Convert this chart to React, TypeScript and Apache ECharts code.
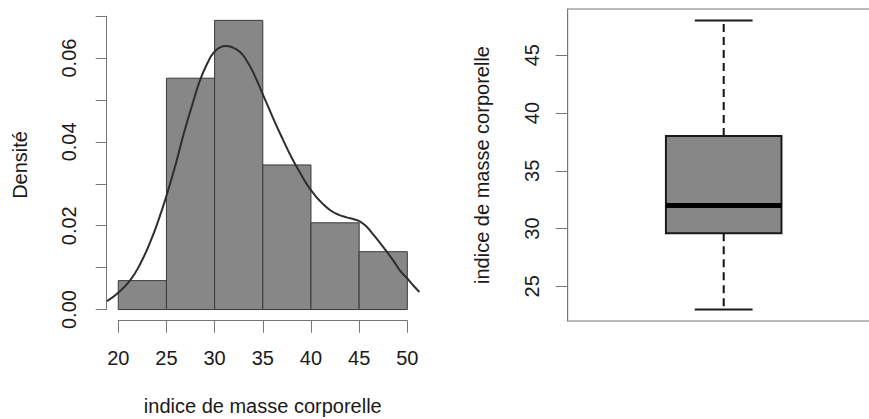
import React, { useEffect, useRef } from "react";
import * as echarts from "echarts";

// Histogram (density scale) of "indice de masse corporelle"
const binStarts = [20, 25, 30, 35, 40, 45];
const binEnds = [25, 30, 35, 40, 45, 50];
const binDensity = [0.0069, 0.0552, 0.069, 0.0345, 0.0207, 0.0138];

// Kernel density curve
const densityX = [18.83, 20.0, 21.25, 22.3, 23.3, 24.2, 25.05, 26.0, 26.8, 27.7, 28.5, 29.3, 29.9, 30.6, 31.2, 31.9, 32.66, 33.3, 34.0, 35.07, 36.1, 37.1, 38.0, 38.9, 39.6, 40.26, 41.1, 42.0, 42.9, 43.7, 44.5, 45.1, 45.8, 46.5, 47.2, 47.9, 48.6, 49.2, 50.0, 50.6, 51.25];
const densityY = [0.0020, 0.0040, 0.0070, 0.0110, 0.0160, 0.0215, 0.0275, 0.0350, 0.0420, 0.0490, 0.0548, 0.0590, 0.0613, 0.0626, 0.0629, 0.0625, 0.0614, 0.0595, 0.0566, 0.0510, 0.0455, 0.0405, 0.0362, 0.0325, 0.0298, 0.0277, 0.0255, 0.0237, 0.0226, 0.0220, 0.0215, 0.0210, 0.0197, 0.0178, 0.0158, 0.0137, 0.0115, 0.0094, 0.0074, 0.0058, 0.0042];

// Histogram axes
const histXTicks = [20, 25, 30, 35, 40, 45, 50];
const histYTicks = [0, 0.01, 0.02, 0.03, 0.04, 0.05, 0.06, 0.07];
const histYLabels = [0, 0.02, 0.04, 0.06];

// Boxplot stats
const boxPosition = [1];
const boxMin = [23];
const boxQ1 = [29.6];
const boxMedian = [32];
const boxQ3 = [38];
const boxMax = [48];
const boxYTicks = [25, 30, 35, 40, 45];

const xTitle = "indice de masse corporelle";
const yTitleLeft = "Densité";
const yTitleRight = "indice de masse corporelle";

// layout
const FONT = "'Liberation Sans', Arial, sans-serif";
const TXT = "#1a1a1a";
const AXC = "#777777";
const CANVAS_W = 1000;
const H = { left: 106.7, top: 8.8, width: 312.2, height: 312.3 };
const HX = [18.8, 51.2];
const HY = [-0.00276, 0.07176];
const B = { left: 567.7, top: 9, width: 312, height: 312 };
const BX = [0.46, 1.54];
const BY = [22, 49];

export default function App() {
  const ref = useRef<HTMLDivElement>(null);
  useEffect(() => {
    if (!ref.current) return;
    const chart = echarts.init(ref.current, null, { renderer: "svg" });

    const xPx = (v: number) => H.left + ((v - HX[0]) / (HX[1] - HX[0])) * H.width;
    const yPx = (v: number) => H.top + ((HY[1] - v) / (HY[1] - HY[0])) * H.height;
    const xa0 = xPx(histXTicks[0]);
    const xa1 = xPx(histXTicks[histXTicks.length - 1]);
    const ya0 = yPx(histYTicks[0]);
    const ya1 = yPx(histYTicks[histYTicks.length - 1]);

    const histData = binStarts.map((s, i) => [s, binEnds[i], binDensity[i]]);
    const curveData = densityX.map((x, i) => [x, densityY[i]]);
    const boxData = boxPosition.map((p, i) => [p, boxMin[i], boxQ1[i], boxMedian[i], boxQ3[i], boxMax[i]]);

    const labelStyle = { color: TXT, fontFamily: FONT, fontSize: 20 };

    chart.setOption({
      animation: false,
      grid: [
        { left: H.left, top: H.top, width: H.width, height: H.height },
        { left: xa0, top: H.top + H.height - 0.4, width: xa1 - xa0, height: 0.01 },
        { left: H.left - 0.01, top: ya1, width: 0.01, height: ya0 - ya1 },
        { left: B.left, top: B.top, width: B.width, height: B.height },
      ],
      xAxis: [
        { type: "value", gridIndex: 0, min: HX[0], max: HX[1], show: false },
        {
          type: "value", gridIndex: 1, min: 20, max: 50, position: "bottom",
          axisLine: { show: true, lineStyle: { color: AXC, width: 1 } },
          axisTick: { show: true, length: 12, customValues: histXTicks, lineStyle: { color: AXC } },
          axisLabel: { ...labelStyle, margin: 27, customValues: histXTicks },
          splitLine: { show: false },
        },
        { type: "value", gridIndex: 2, min: 0, max: 1, show: false },
        { type: "value", gridIndex: 3, min: BX[0], max: BX[1], show: false },
      ],
      yAxis: [
        { type: "value", gridIndex: 0, min: HY[0], max: HY[1], show: false },
        { type: "value", gridIndex: 1, min: 0, max: 1, show: false },
        {
          type: "value", gridIndex: 2, min: 0, max: 0.07, position: "left",
          axisLine: { show: true, lineStyle: { color: AXC, width: 1 } },
          axisTick: { show: true, length: 11, customValues: histYTicks, lineStyle: { color: AXC } },
          axisLabel: {
            ...labelStyle, rotate: 90, margin: 28, customValues: histYLabels,
            formatter: (v: number) => v.toFixed(2),
          },
          splitLine: { show: false },
        },
        {
          type: "value", gridIndex: 3, min: BY[0], max: BY[1], position: "left",
          axisLine: { show: true, lineStyle: { color: AXC, width: 1 } },
          axisTick: { show: true, length: 12, customValues: boxYTicks, lineStyle: { color: AXC } },
          axisLabel: { ...labelStyle, rotate: 90, margin: 26, customValues: boxYTicks },
          splitLine: { show: false },
        },
      ],
      graphic: [
        {
          type: "text", x: 20, y: H.top + H.height / 2, rotation: Math.PI / 2,
          style: { text: yTitleLeft, ...labelStyle, fill: TXT, align: "center", verticalAlign: "middle" },
        },
        {
          type: "text", x: H.left + H.width / 2, y: 406,
          style: { text: xTitle, ...labelStyle, fill: TXT, align: "center", verticalAlign: "middle" },
        },
        {
          type: "text", x: 482, y: B.top + B.height / 2, rotation: Math.PI / 2,
          style: { text: yTitleRight, ...labelStyle, fill: TXT, align: "center", verticalAlign: "middle" },
        },
      ],
      series: [
        {
          type: "custom",
          xAxisIndex: 0, yAxisIndex: 0,
          data: histData,
          encode: { x: [0, 1], y: 2 },
          renderItem: (params: any, api: any) => {
            const p0 = api.coord([api.value(0), api.value(2)]);
            const p1 = api.coord([api.value(1), 0]);
            return {
              type: "rect",
              shape: { x: p0[0], y: p0[1], width: p1[0] - p0[0], height: p1[1] - p0[1] },
              style: { fill: "#878787", stroke: "#3a3a3a", lineWidth: 1 },
            };
          },
          z: 2,
        },
        {
          type: "line",
          xAxisIndex: 0, yAxisIndex: 0,
          data: curveData,
          smooth: true,
          symbol: "none",
          lineStyle: { color: "#2e2e2e", width: 2 },
          z: 3,
        },
        {
          type: "custom",
          xAxisIndex: 3, yAxisIndex: 3,
          data: boxData,
          encode: { x: 0, y: [1, 2, 3, 4, 5] },
          renderItem: (params: any, api: any) => {
            const cs = params.coordSys;
            const pos = api.value(0);
            const half = 0.2;
            const capHalf = 0.1;
            const c = (x: number, y: number) => api.coord([x, y]);
            const pMin = c(pos, api.value(1));
            const pQ1 = c(pos, api.value(2));
            const pMed = c(pos, api.value(3));
            const pQ3 = c(pos, api.value(4));
            const pMax = c(pos, api.value(5));
            const bl = c(pos - half, api.value(4));
            const br = c(pos + half, api.value(2));
            const cl = c(pos - capHalf, 0)[0];
            const cr = c(pos + capHalf, 0)[0];
            const dash = { stroke: "#111", lineWidth: 2, lineDash: [8, 5] };
            const solid = { stroke: "#1a1a1a", lineWidth: 2 };
            return {
              type: "group",
              children: [
                {
                  type: "polyline",
                  shape: { points: [[cs.x + cs.width, cs.y], [cs.x, cs.y], [cs.x, cs.y + cs.height], [cs.x + cs.width, cs.y + cs.height]] },
                  style: { fill: "none", stroke: AXC, lineWidth: 1 },
                },
                { type: "line", shape: { x1: pQ3[0], y1: pQ3[1], x2: pMax[0], y2: pMax[1] }, style: dash },
                { type: "line", shape: { x1: pQ1[0], y1: pQ1[1], x2: pMin[0], y2: pMin[1] }, style: dash },
                { type: "line", shape: { x1: cl, y1: pMax[1], x2: cr, y2: pMax[1] }, style: solid },
                { type: "line", shape: { x1: cl, y1: pMin[1], x2: cr, y2: pMin[1] }, style: solid },
                {
                  type: "rect",
                  shape: { x: bl[0], y: bl[1], width: br[0] - bl[0], height: br[1] - bl[1] },
                  style: { fill: "#878787", stroke: "#1a1a1a", lineWidth: 2 },
                },
                {
                  type: "line",
                  shape: { x1: bl[0], y1: pMed[1], x2: br[0], y2: pMed[1] },
                  style: { stroke: "#000", lineWidth: 5 },
                },
              ],
            };
          },
          z: 2,
        },
      ],
    });
    return () => chart.dispose();
  }, []);
  return (
    <div
      style={{ position: "absolute", left: 0, top: 0, width: 869, height: 419, overflow: "hidden", background: "#fff" }}
    >
      <div ref={ref} style={{ width: CANVAS_W, height: 419 }} />
    </div>
  );
}
